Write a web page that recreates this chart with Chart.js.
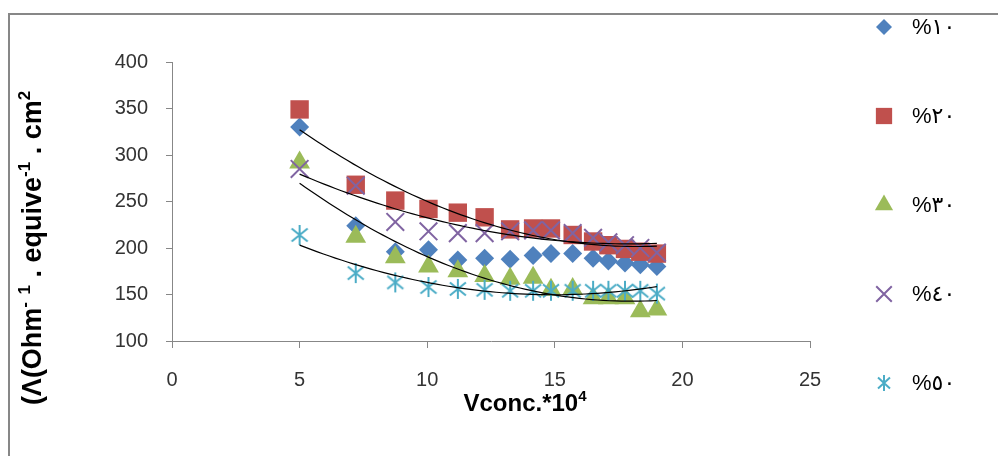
<!DOCTYPE html>
<html lang="ar">
<head>
  <meta charset="UTF-8">
  <title>Λ vs Vconc</title>
  <script src="https://cdn.jsdelivr.net/npm/chart.js@4.4.1/dist/chart.umd.min.js"></script>
  <style>
    body {
      margin: 0;
      background-color: #fff;
    }

    .chart-container {
      position: relative;
      width: 998px;
      height: 456px;
    }
  </style>
</head>
<body>
  <div class="chart-container">
    <canvas id="lambdaChart"></canvas>
  </div>
  <script>
    // x values (Vconc.*10^4), shared by all series
    const concX = [5, 7.2, 8.75, 10.05, 11.2, 12.25, 13.25, 14.15, 14.85, 15.7, 16.5, 17.1, 17.75, 18.35, 19.0];

    // equivalent conductance for each percentage
    const lambda10 = [330, 224, 196, 198, 187, 189, 188, 192, 194, 194, 189, 186, 184, 182, 180];
    const lambda20 = [349, 268, 251, 242, 238, 233, 220, 221, 221, 214, 207, 203, 199, 196, 194];
    const lambda30 = [292, 212, 190, 180, 175, 170, 167, 168, 155, 156, 146, 146, 146, 132, 134];
    const lambda40 = [285, 267, 228, 218, 216, 216, 218, 219, 219, 216, 211, 206, 203, 200, 195];
    const lambda50 = [214, 173, 163, 158, 156, 155, 154, 154, 154, 154, 154, 154, 154, 154, 151];

    const seriesLabels = ['%١٠', '%٢٠', '%٣٠', '%٤٠', '%٥٠'];

    // axis ranges and steps
    const xRange = [0, 25, 5];
    const yRange = [100, 400, 50];

    const tickFont = "'Liberation Sans', Arial, sans-serif";
    const titleFont = "'Liberation Sans', Arial, sans-serif";

    // asterisk marker (vertical bar + X), drawn on a small canvas
    function makeAsterisk(w, h, color) {
      const c = document.createElement('canvas');
      c.width = w;
      c.height = h;
      const g = c.getContext('2d');
      g.strokeStyle = color;
      g.lineWidth = 2;
      g.beginPath();
      g.moveTo(w / 2, 1); g.lineTo(w / 2, h - 1);
      g.moveTo(2, h * 0.2); g.lineTo(w - 2, h * 0.8);
      g.moveTo(2, h * 0.8); g.lineTo(w - 2, h * 0.2);
      g.stroke();
      return c;
    }

    function toPoints(ys) {
      return concX.map((x, i) => ({ x: x, y: ys[i] }));
    }

    // least squares 2nd order polynomial, like the excel trendline
    function quadTrend(ys) {
      let n = concX.length, s1 = 0, s2 = 0, s3 = 0, s4 = 0, t0 = 0, t1 = 0, t2 = 0;
      for (let i = 0; i < n; i++) {
        const x = concX[i], y = ys[i];
        s1 += x; s2 += x * x; s3 += x * x * x; s4 += x * x * x * x;
        t0 += y; t1 += x * y; t2 += x * x * y;
      }
      const det = (m) => m[0][0] * (m[1][1] * m[2][2] - m[1][2] * m[2][1])
        - m[0][1] * (m[1][0] * m[2][2] - m[1][2] * m[2][0])
        + m[0][2] * (m[1][0] * m[2][1] - m[1][1] * m[2][0]);
      const M = [[n, s1, s2], [s1, s2, s3], [s2, s3, s4]];
      const T = [t0, t1, t2];
      const D = det(M);
      const coef = [0, 1, 2].map(k => det(M.map((row, r) => row.map((v, c) => c === k ? T[r] : v))) / D);
      const pts = [];
      const x0 = concX[0], x1 = concX[concX.length - 1];
      for (let k = 0; k <= 60; k++) {
        const x = x0 + (x1 - x0) * k / 60;
        pts.push({ x: x, y: coef[0] + coef[1] * x + coef[2] * x * x });
      }
      return pts;
    }

    const starBig = makeAsterisk(20, 22, '#4BACC6');
    const starSmall = makeAsterisk(16, 18, '#4BACC6');

    const markerSets = [
      { label: seriesLabels[0], data: toPoints(lambda10), pointStyle: 'rectRot', pointRadius: 9.5, legendRadius: 8,
        backgroundColor: '#4F81BD', borderColor: '#4F81BD', borderWidth: 0, order: 5 },
      { label: seriesLabels[1], data: toPoints(lambda20), pointStyle: 'rect', pointRadius: 13, legendRadius: 11.5,
        backgroundColor: '#C0504D', borderColor: '#C0504D', borderWidth: 0, order: 4 },
      { label: seriesLabels[2], data: toPoints(lambda30), pointStyle: 'triangle', pointRadius: 12, legendRadius: 10.5,
        backgroundColor: '#9BBB59', borderColor: '#9BBB59', borderWidth: 0, order: 3 },
      { label: seriesLabels[3], data: toPoints(lambda40), pointStyle: 'crossRot', pointRadius: 12.5, legendRadius: 11,
        backgroundColor: '#8064A2', borderColor: '#8064A2', borderWidth: 2, order: 2 },
      { label: seriesLabels[4], data: toPoints(lambda50), pointStyle: starBig, legendStyle: starSmall, pointRadius: 10, legendRadius: 8,
        backgroundColor: '#4BACC6', borderColor: '#4BACC6', borderWidth: 2, order: 1 }
    ];
    markerSets.forEach(ds => { ds.showLine = false; ds.pointHoverRadius = ds.pointRadius; });

    const trendSets = [lambda20, lambda30, lambda40, lambda50].map(ys => ({
      label: 'trend',
      data: quadTrend(ys),
      showLine: true,
      pointRadius: 0,
      borderColor: '#000',
      borderWidth: 1.2,
      tension: 0,
      order: 0
    }));

    // draws text made of normal and superscript pieces
    function drawRich(ctx, parts, x, y, size) {
      const fontOf = (p) => 'bold ' + (p[1] ? Math.round(size * 0.62) : size) + 'px ' + titleFont;
      let total = 0;
      parts.forEach(p => { ctx.font = fontOf(p); total += ctx.measureText(p[0]).width; });
      let cx = x - total / 2;
      ctx.textAlign = 'left';
      ctx.textBaseline = 'alphabetic';
      parts.forEach(p => {
        ctx.font = fontOf(p);
        ctx.fillText(p[0], cx, p[1] ? y - size * 0.4 : y);
        cx += ctx.measureText(p[0]).width;
      });
    }

    const extras = {
      id: 'extras',
      afterDraw(chart) {
        const ctx = chart.ctx;
        ctx.save();

        // outer frame (left and top only)
        ctx.strokeStyle = '#878787';
        ctx.lineWidth = 2;
        ctx.beginPath();
        ctx.moveTo(9, 456);
        ctx.lineTo(9, 14);
        ctx.lineTo(998, 14);
        ctx.stroke();

        // axis titles
        ctx.fillStyle = '#000';
        drawRich(ctx, [['Vconc.*10', false], ['4', true]], 525, 411, 24);
        ctx.save();
        ctx.translate(41, 248);
        ctx.rotate(-Math.PI / 2);
        drawRich(ctx, [['(Λ(Ohm', false], ['-', true], [' ', false], ['1', true], [' . equive', false],
          ['-1', true], [' . cm', false], ['2', true]], 0, 0, 27);
        ctx.restore();

        // legend
        markerSets.forEach((ds, i) => {
          const y = 27 + i * 89;
          ctx.fillStyle = ds.backgroundColor;
          ctx.strokeStyle = ds.borderColor;
          ctx.lineWidth = ds.borderWidth;
          Chart.helpers.drawPoint(ctx, {
            pointStyle: ds.legendStyle || ds.pointStyle,
            radius: ds.legendRadius,
            borderWidth: ds.borderWidth,
            rotation: 0
          }, 884, y);
          ctx.fillStyle = '#000';
          ctx.font = "22px 'Liberation Sans', 'DejaVu Sans', sans-serif";
          ctx.textAlign = 'left';
          ctx.textBaseline = 'middle';
          ctx.fillText(ds.label, 912, y + 1);
        });
        ctx.restore();
      }
    };

    const ctx = document.getElementById('lambdaChart').getContext('2d');
    const lambdaChart = new Chart(ctx, {
      type: 'scatter',
      data: {
        datasets: markerSets.concat(trendSets)
      },
      options: {
        responsive: true,
        maintainAspectRatio: false,
        animation: false,
        layout: {
          padding: { top: 62, right: 188, bottom: 0, left: 0 }
        },
        plugins: {
          legend: { display: false },
          tooltip: { enabled: false }
        },
        scales: {
          x: {
            type: 'linear',
            min: xRange[0],
            max: xRange[1],
            ticks: { stepSize: xRange[2], color: '#333', padding: 20, font: { family: tickFont, size: 20 } },
            grid: { drawOnChartArea: false, tickLength: 7, color: '#878787' },
            border: { color: '#878787' },
            afterFit(scale) { scale.height = 115; }
          },
          y: {
            min: yRange[0],
            max: yRange[1],
            ticks: { stepSize: yRange[2], color: '#333', padding: 18, font: { family: tickFont, size: 20 } },
            grid: { drawOnChartArea: false, tickLength: 6, color: '#878787' },
            border: { color: '#878787' },
            afterFit(scale) { scale.width = 172; }
          }
        }
      },
      plugins: [extras]
    });
  </script>
</body>
</html>
